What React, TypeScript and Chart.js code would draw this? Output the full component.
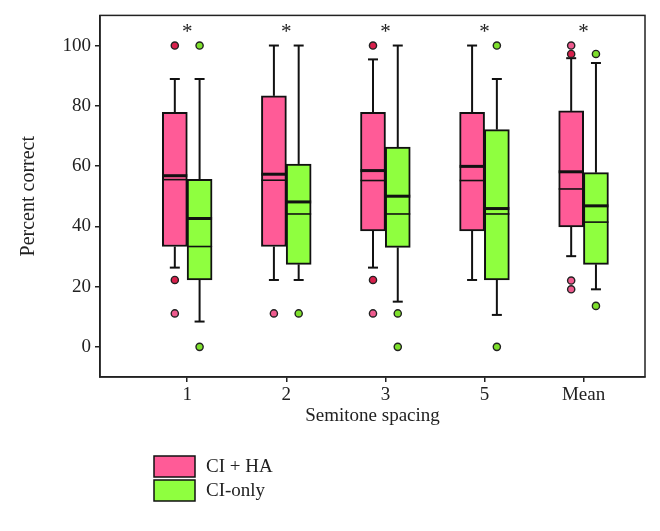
import React, { useEffect, useRef } from 'react';
import { Chart, registerables } from 'chart.js';
Chart.register(...registerables);

const categories = ['1', '2', '3', '5', 'Mean'];
const seriesNames = ['CI + HA', 'CI-only'];
const significance = ['*', '*', '*', '*', '*'];
const yTicks = [0, 20, 40, 60, 80, 100];

// CI + HA
const ciHaLow = [26.3, 22.2, 26.3, 22.2, 30.1];
const ciHaQ1 = [33.3, 33.3, 38.5, 38.5, 39.8];
const ciHaMedian = [56.8, 57.3, 58.5, 59.9, 58.1];
const ciHaMean = [55.5, 55.3, 55.2, 55.2, 52.4];
const ciHaQ3 = [77.8, 83.3, 77.8, 77.8, 78.3];
const ciHaHigh = [88.9, 100, 95.4, 100, 95.8];
// [value, number of overlapping cases]
const ciHaOutliers: number[][][] = [
  [[100, 2], [22.2, 2], [11.1, 1]],
  [[11.1, 1]],
  [[100, 2], [22.2, 2], [11.1, 1]],
  [],
  [[100, 1], [97.2, 2], [22, 1], [19.1, 1]],
];

// CI-only
const ciOnlyLow = [8.4, 22.2, 15, 10.6, 19.1];
const ciOnlyQ1 = [22.2, 27.4, 33.0, 22.2, 27.4];
const ciOnlyMedian = [42.6, 48.1, 50, 45.9, 46.8];
const ciOnlyMean = [33.3, 44.1, 44.1, 44.1, 41.4];
const ciOnlyQ3 = [55.6, 60.7, 66.3, 72.1, 57.8];
const ciOnlyHigh = [88.9, 100, 100, 88.9, 94.2];
const ciOnlyOutliers: number[][][] = [
  [[100, 1], [0, 1]],
  [[11.1, 1]],
  [[11.1, 1], [0, 1]],
  [[100, 1], [0, 1]],
  [[97.2, 1], [13.6, 1]],
];

const PINK = '#ff5b97';
const GREEN = '#8fff3f';
const FONT = 'Liberation Serif';
const OFFSET = 0.125;
const BOX_W = 25;

const groups = [
  { name: seriesNames[0], color: PINK, off: -OFFSET, low: ciHaLow, q1: ciHaQ1, med: ciHaMedian, mean: ciHaMean, q3: ciHaQ3, high: ciHaHigh, out: ciHaOutliers },
  { name: seriesNames[1], color: GREEN, off: OFFSET, low: ciOnlyLow, q1: ciOnlyQ1, med: ciOnlyMedian, mean: ciOnlyMean, q3: ciOnlyQ3, high: ciOnlyHigh, out: ciOnlyOutliers },
];

const boxPlugin = {
  id: 'boxDetails',
  beforeDatasetsDraw(chart: any) {
    const { ctx, scales } = chart;
    const xs = scales.x, ys = scales.y;
    ctx.save();
    ctx.strokeStyle = '#111';
    ctx.lineWidth = 2;
    groups.forEach((g) => {
      categories.forEach((_, i) => {
        const x = xs.getPixelForValue(i + 1 + g.off);
        const pairs = [[g.low[i], g.q1[i]], [g.q3[i], g.high[i]]];
        pairs.forEach(([a, b]) => {
          const ya = ys.getPixelForValue(a), yb = ys.getPixelForValue(b);
          ctx.beginPath();
          ctx.moveTo(x, ya);
          ctx.lineTo(x, yb);
          ctx.stroke();
        });
        [g.low[i], g.high[i]].forEach((v) => {
          const y = ys.getPixelForValue(v);
          ctx.beginPath();
          ctx.moveTo(x - 5, y);
          ctx.lineTo(x + 5, y);
          ctx.stroke();
        });
      });
    });
    ctx.restore();
  },
  afterDatasetsDraw(chart: any) {
    const { ctx, scales } = chart;
    const xs = scales.x, ys = scales.y;
    ctx.save();
    ctx.strokeStyle = '#111';
    groups.forEach((g) => {
      categories.forEach((_, i) => {
        const x = xs.getPixelForValue(i + 1 + g.off);
        const half = BOX_W / 2;
        ctx.lineWidth = 1.6;
        let y = ys.getPixelForValue(g.mean[i]);
        ctx.beginPath(); ctx.moveTo(x - half, y); ctx.lineTo(x + half, y); ctx.stroke();
        ctx.lineWidth = 3;
        y = ys.getPixelForValue(g.med[i]);
        ctx.beginPath(); ctx.moveTo(x - half, y); ctx.lineTo(x + half, y); ctx.stroke();
      });
    });
    // significance markers
    ctx.fillStyle = '#222';
    ctx.font = `21px "${FONT}"`;
    ctx.textAlign = 'center';
    ctx.textBaseline = 'middle';
    significance.forEach((s, i) => {
      ctx.fillText(s, xs.getPixelForValue(i + 1), ys.getPixelForValue(104.3));
    });
    ctx.restore();
  },
  afterDraw(chart: any) {
    const { ctx, chartArea } = chart;
    ctx.save();
    ctx.strokeStyle = '#222';
    ctx.lineWidth = 1.5;
    ctx.strokeRect(chartArea.left, chartArea.top, chartArea.right - chartArea.left, chartArea.bottom - chartArea.top);
    // legend
    ctx.font = `19px "${FONT}"`;
    ctx.textAlign = 'left';
    ctx.textBaseline = 'middle';
    groups.forEach((g, gi) => {
      const top = 456 + gi * 24;
      ctx.fillStyle = g.color;
      ctx.fillRect(154, top, 41, 21);
      ctx.strokeStyle = '#111';
      ctx.lineWidth = 1.5;
      ctx.strokeRect(154, top, 41, 21);
      ctx.fillStyle = '#222';
      ctx.fillText(g.name, 206, top + 11);
    });
    ctx.restore();
  },
};

export default function App() {
  const ref = useRef<HTMLCanvasElement>(null);
  useEffect(() => {
    document.body.style.margin = '0';
    const datasets: any[] = [];
    groups.forEach((g) => {
      datasets.push({
        type: 'bar',
        label: g.name,
        data: categories.map((_, i) => ({ x: i + 1 + g.off, y: [g.q1[i], g.q3[i]] })),
        backgroundColor: g.color,
        borderColor: '#111',
        borderWidth: 2,
        borderSkipped: false,
        barThickness: BOX_W,
        grouped: false,
      });
    });
    groups.forEach((g) => {
      const pts: any[] = [];
      const cols: string[] = [];
      g.out.forEach((list, i) => {
        list.forEach(([v, n]) => {
          pts.push({ x: i + 1 + g.off, y: v });
          cols.push(g.color === PINK ? (n > 1 ? '#d8204c' : '#ee5a8e') : '#7ee02c');
        });
      });
      datasets.push({
        type: 'scatter',
        label: g.name + ' outliers',
        data: pts,
        pointRadius: 3.6,
        pointBackgroundColor: cols,
        pointBorderColor: '#222',
        pointBorderWidth: 1.4,
      });
    });

    const chart = new Chart(ref.current!, {
      type: 'bar',
      data: { datasets },
      options: {
        responsive: false,
        animation: false,
        layout: { padding: { left: 0, top: 15, right: 15, bottom: 104 } },
        plugins: { legend: { display: false }, tooltip: { enabled: false } },
        scales: {
          x: {
            type: 'linear',
            offset: false,
            min: 0.12,
            max: 5.62,
            afterBuildTicks: (s: any) => { s.ticks = categories.map((_, i) => ({ value: i + 1 })); },
            afterFit: (s: any) => { s.height = 50; },
            ticks: {
              callback: (v: any) => categories[Number(v) - 1] ?? '',
              font: { family: FONT, size: 19 },
              color: '#222',
              padding: 2,
              maxRotation: 0,
              autoSkip: false,
            },
            grid: { display: true, offset: false, drawOnChartArea: false, drawTicks: true, tickLength: 5, color: '#222', lineWidth: 1.5 },
            border: { display: true, color: '#222', width: 1.5 },
            title: { display: true, text: 'Semitone spacing', font: { family: FONT, size: 19 }, color: '#222', padding: { top: 0, bottom: 0 } },
          },
          y: {
            type: 'linear',
            min: -10,
            max: 110,
            afterBuildTicks: (s: any) => { s.ticks = yTicks.map((v) => ({ value: v })); },
            afterFit: (s: any) => { s.width = 100; },
            ticks: { font: { family: FONT, size: 19 }, color: '#222', padding: 4 },
            grid: { display: true, drawOnChartArea: false, drawTicks: true, tickLength: 5, color: '#222', lineWidth: 1.5 },
            border: { display: true, color: '#222', width: 1.5 },
            title: { display: true, text: 'Percent correct', font: { family: FONT, size: 20 }, color: '#222', padding: { top: 17, bottom: 0 } },
          },
        },
      } as any,
      plugins: [boxPlugin],
    });
    return () => chart.destroy();
  }, []);
  return (
    <div style={{ width: 660, height: 531, background: '#fff' }}>
      <canvas ref={ref} width={660} height={531} />
    </div>
  );
}
